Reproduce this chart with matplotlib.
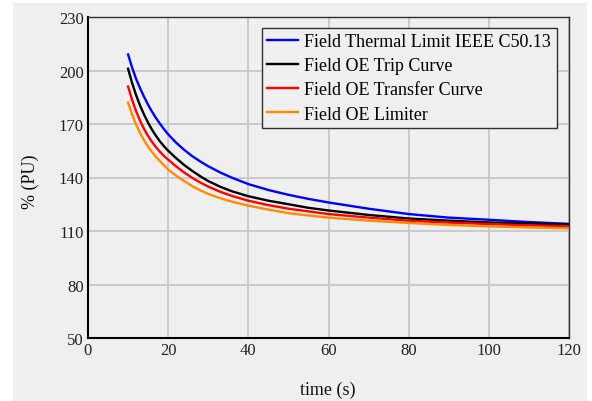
import matplotlib
matplotlib.use("Agg")
import matplotlib.pyplot as plt
from matplotlib.patches import Rectangle

# ---- data ----
time_s = [10, 11, 12, 13, 14, 15, 16, 17, 18, 19, 20, 22, 24, 26, 28, 30, 33, 36,
          40, 45, 50, 55, 60, 70, 80, 90, 100, 110, 120]
thermal_limit = [209, 201.7, 195.3, 190, 185.2, 180.8, 176.8, 173.2, 170, 167, 164.2,
                 159.5, 155.5, 152, 149, 146.3, 142.8, 139.8, 136.3, 133, 130.3, 128,
                 126, 122.5, 119.5, 117.5, 116.3, 115, 114]
trip_curve = [201, 193, 186.2, 180.3, 175.2, 170.7, 166.7, 163.2, 160.1, 157.4, 155,
              150.8, 147, 143.7, 140.7, 138, 134.8, 132.2, 129.5, 127, 125, 123,
              121.5, 119, 117, 115.8, 114.8, 114.2, 113.7]
transfer_curve = [191, 183.6, 177.2, 171.8, 167.2, 163.3, 159.9, 156.9, 154.3, 152, 150,
                  146.2, 142.8, 139.8, 137.2, 134.9, 132, 129.6, 127, 124.5, 122.5,
                  121, 119.5, 117.5, 115.8, 114.7, 113.9, 113.2, 112.6]
limiter = [182, 175.4, 169.7, 164.9, 160.8, 157.3, 154.2, 151.5, 149.1, 146.7, 144.5,
           141, 138, 135.2, 132.8, 130.8, 128.4, 126.4, 124.2, 122, 120, 118.7,
           117.5, 115.8, 114.5, 113.4, 112.6, 112, 111.5]

series_labels = ["Field Thermal Limit IEEE C50.13", "Field OE Trip Curve",
                 "Field OE Transfer Curve", "Field OE Limiter"]
series_colors = ["#0000FF", "#000000", "#FF0000", "#FF8C00"]
x_ticks = [0, 20, 40, 60, 80, 100, 120]
y_ticks = [50, 80, 110, 140, 170, 200, 230]

W, H = 592, 402
BG = "#EFEFEF"
fig = plt.figure(figsize=(W / 100, H / 100), dpi=100, facecolor="white")
fig.patches.append(Rectangle((13 / W, 0), (587 - 13) / W, (H - 4) / H,
                             transform=fig.transFigure, facecolor=BG,
                             edgecolor="none", zorder=-10))

ax_l, ax_r, ax_t, ax_b = 88, 569, 18, 339
ax = fig.add_axes([ax_l / W, 1 - ax_b / H, (ax_r - ax_l) / W, (ax_b - ax_t) / H])
ax.set_facecolor(BG)

serif = ["Liberation Serif", "DejaVu Serif"]
for ys, lab, col in zip([thermal_limit, trip_curve, transfer_curve, limiter],
                        series_labels, series_colors):
    ax.plot(time_s, ys, color=col, lw=1.7, label=lab, solid_joinstyle="round")

ax.set_xlim(0, 120)
ax.set_ylim(50, 230)
ax.set_xticks(x_ticks)
ax.set_yticks(y_ticks)
ax.grid(True, color="#C8C8C8", lw=1.3)
ax.set_axisbelow(True)
ax.tick_params(length=0, pad=3, labelcolor="#222222")
for lbl in ax.get_xticklabels() + ax.get_yticklabels():
    lbl.set_fontfamily(serif)
    lbl.set_fontsize(12)

for s in ["left", "bottom"]:
    ax.spines[s].set_color("black")
    ax.spines[s].set_linewidth(1.5)
for s in ["top", "right"]:
    ax.spines[s].set_color("#303030")
    ax.spines[s].set_linewidth(1.0)

ax.set_xlabel("time (s)", fontfamily=serif, fontsize=13, color="#111111", va="center")
ax.set_ylabel("% (PU)", fontfamily=serif, fontsize=13, color="#111111", va="center")
ax.xaxis.set_label_coords(((ax_l + ax_r) / 2 - 1 - ax_l) / (ax_r - ax_l),
                          (ax_b - 390) / (ax_b - ax_t))
ax.yaxis.set_label_coords((30 - ax_l) / (ax_r - ax_l), 0.49)

leg = ax.legend(loc="upper left",
                bbox_to_anchor=((262 - ax_l) / (ax_r - ax_l), (ax_b - 29) / (ax_b - ax_t)),
                borderaxespad=0, prop={"family": serif, "size": 13},
                handlelength=1.7, handletextpad=0.35, borderpad=0.3,
                labelspacing=0.39, fancybox=False, framealpha=1,
                facecolor=BG, edgecolor="#303030")
leg.get_frame().set_linewidth(1.0)
for line in leg.get_lines():
    line.set_linewidth(1.7)

fig.savefig("out.png", dpi=100, facecolor=fig.get_facecolor())
